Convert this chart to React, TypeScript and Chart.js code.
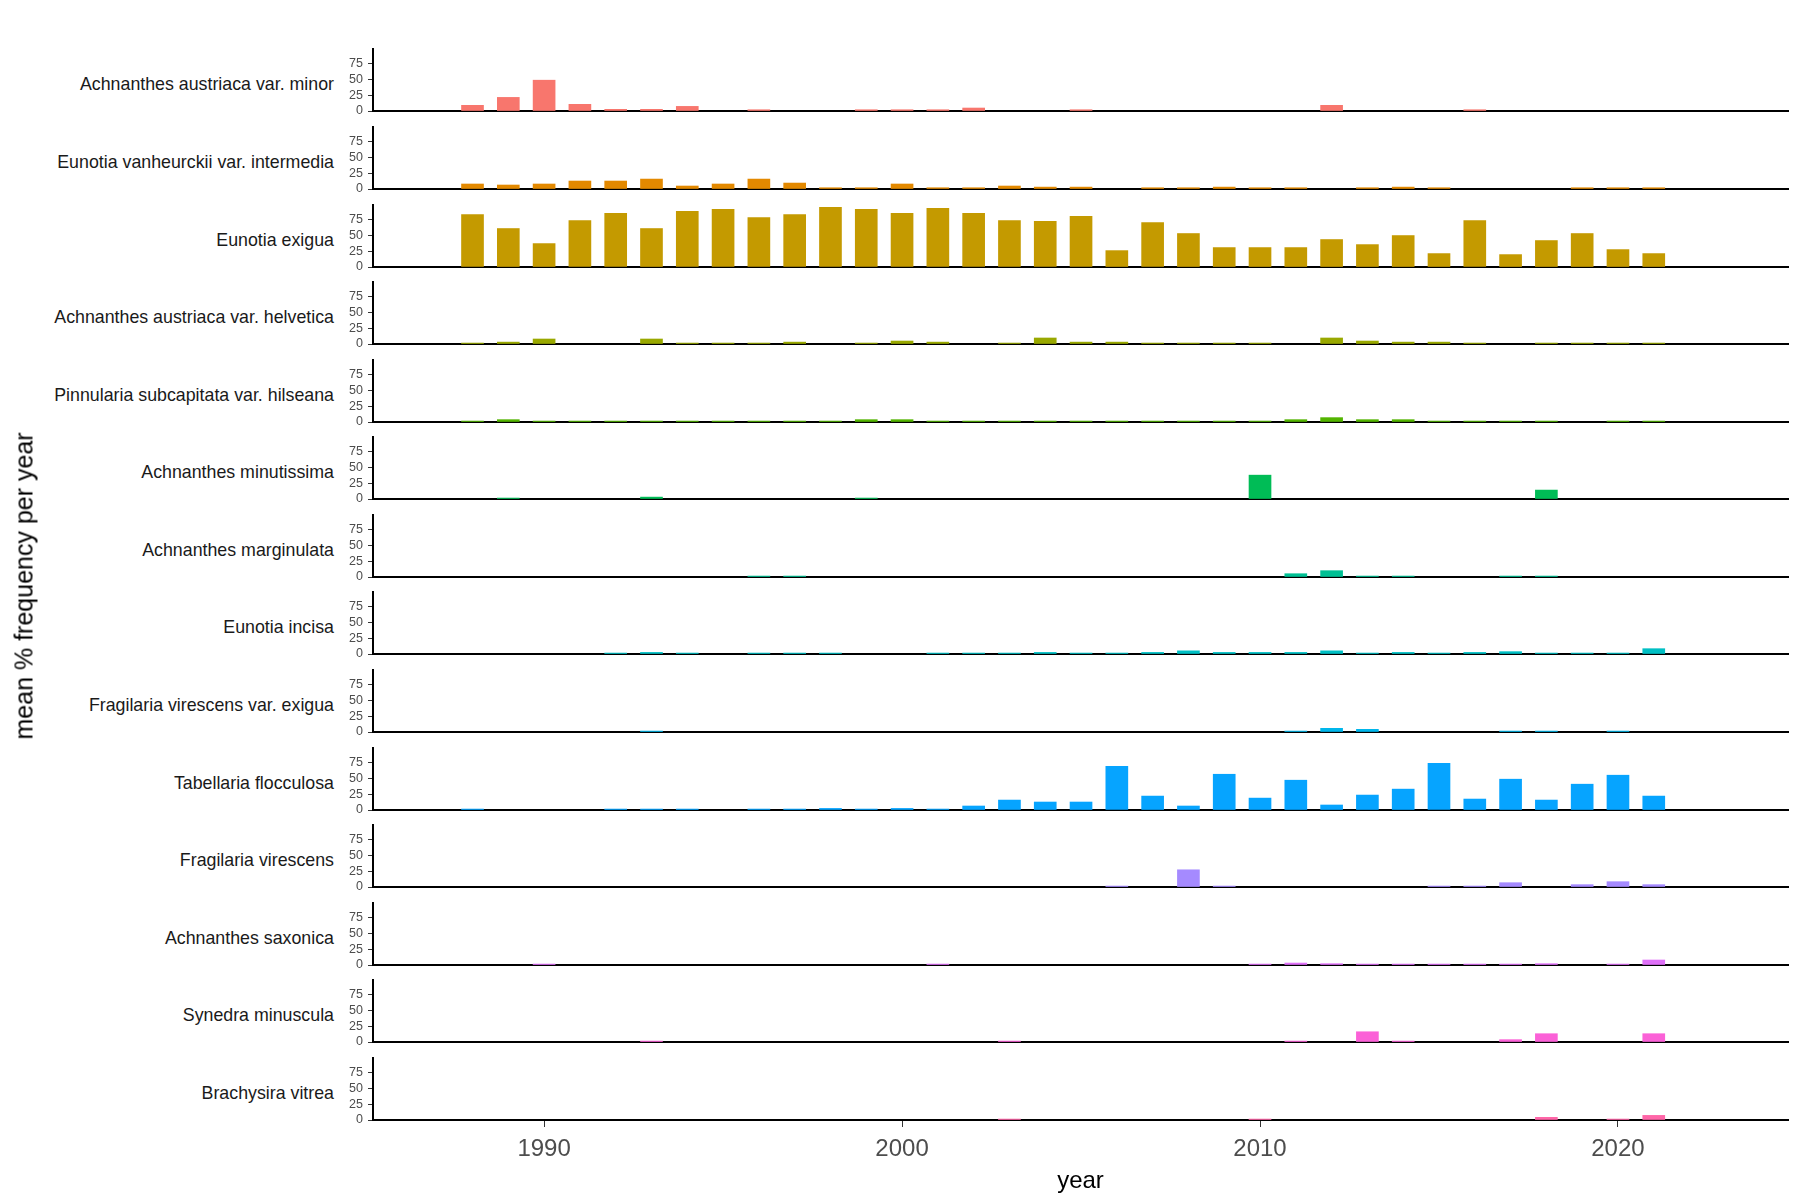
import React, { useEffect, useRef } from "react";
import { Chart, registerables } from "chart.js";

Chart.register(...registerables);

const FONT = "'Liberation Sans', Arial, Helvetica, sans-serif";
Chart.defaults.font.family = FONT;

// ---------- data ----------
const SPECIES = [
  "Achnanthes austriaca var. minor",
  "Eunotia vanheurckii var. intermedia",
  "Eunotia exigua",
  "Achnanthes austriaca var. helvetica",
  "Pinnularia subcapitata var. hilseana",
  "Achnanthes minutissima",
  "Achnanthes marginulata",
  "Eunotia incisa",
  "Fragilaria virescens var. exigua",
  "Tabellaria flocculosa",
  "Fragilaria virescens",
  "Achnanthes saxonica",
  "Synedra minuscula",
  "Brachysira vitrea",
];

const COLORS = [
  "#F8766D", "#E38900", "#C49A00", "#99A800", "#53B400", "#00BC56", "#00C094",
  "#00BFC4", "#00B6EB", "#06A4FF", "#A58AFF", "#DF70F8", "#FB61D7", "#FF66A8",
];

const X_TICKS = [1990, 2000, 2010, 2020];
const Y_TICKS = [0, 25, 50, 75];

// [year, mean % frequency]
const AUSTRIACA_MINOR = [[1988, 9], [1989, 21.5], [1990, 48.7], [1991, 10.5], [1992, 2.6], [1993, 2.6], [1994, 7.3], [1996, 2], [1999, 2], [2000, 2], [2001, 2], [2002, 4.7], [2005, 2], [2012, 9], [2016, 2]];
const VANHEURCKII = [[1988, 7.9], [1989, 6.3], [1990, 7.9], [1991, 12.6], [1992, 12.6], [1993, 15.7], [1994, 4.7], [1995, 7.9], [1996, 15.7], [1997, 9.4], [1998, 2], [1999, 2], [2000, 7.9], [2001, 2], [2002, 2], [2003, 4.7], [2004, 3], [2005, 3], [2007, 2], [2008, 2], [2009, 3], [2010, 2], [2011, 2], [2013, 2], [2014, 3], [2015, 2], [2019, 2], [2020, 2], [2021, 2]];
const EXIGUA = [[1988, 83], [1989, 60.8], [1990, 37], [1991, 73.5], [1992, 84.7], [1993, 60.8], [1994, 87.8], [1995, 91], [1996, 78.3], [1997, 83], [1998, 94.2], [1999, 91], [2000, 84.7], [2001, 92.6], [2002, 84.7], [2003, 73.5], [2004, 72], [2005, 79.9], [2006, 25.9], [2007, 70.4], [2008, 52.9], [2009, 30.7], [2010, 30.7], [2011, 30.7], [2012, 43.4], [2013, 35.4], [2014, 49.7], [2015, 21.2], [2016, 73.5], [2017, 19.6], [2018, 41.8], [2019, 52.9], [2020, 27.5], [2021, 21.2]];
const HELVETICA = [[1988, 1.5], [1989, 3], [1990, 7.9], [1993, 7.9], [1994, 1.5], [1995, 1.5], [1996, 1.5], [1997, 3], [1999, 1.5], [2000, 4.7], [2001, 3], [2003, 1.5], [2004, 9.5], [2005, 3], [2006, 3], [2007, 1.5], [2008, 1.5], [2009, 1.5], [2010, 1.5], [2012, 9.5], [2013, 4.7], [2014, 3], [2015, 3], [2016, 1.5], [2018, 1.5], [2019, 1.5], [2020, 1.5], [2021, 1.5]];
const HILSEANA = [[1988, 1.5], [1989, 3.7], [1990, 1.5], [1991, 1.5], [1992, 1.5], [1993, 1.5], [1994, 1.5], [1995, 1.5], [1996, 1.5], [1997, 1.5], [1998, 1.5], [1999, 3.7], [2000, 3.7], [2001, 1.5], [2002, 1.5], [2003, 1.5], [2004, 1.5], [2005, 1.5], [2006, 1.5], [2007, 1.5], [2008, 1.5], [2009, 1.5], [2010, 1.5], [2011, 3.7], [2012, 6.9], [2013, 3.7], [2014, 3.7], [2015, 1.5], [2016, 1.5], [2017, 1.5], [2018, 1.5], [2020, 1.5], [2021, 1.5]];
const MINUTISSIMA = [[1989, 1.5], [1993, 3], [1999, 1.5], [2010, 37.7], [2018, 14.1]];
const MARGINULATA = [[1996, 1.5], [1997, 1.5], [2011, 5.2], [2012, 10], [2013, 1.5], [2014, 1.5], [2017, 1.5], [2018, 1.5]];
const INCISA = [[1992, 1.5], [1993, 2.5], [1994, 1.5], [1996, 1.5], [1997, 1.5], [1998, 1.5], [2001, 1.5], [2002, 1.5], [2003, 1.5], [2004, 2.5], [2005, 1.5], [2006, 1.5], [2007, 2.5], [2008, 5], [2009, 2.5], [2010, 2.5], [2011, 2.5], [2012, 5], [2013, 1.5], [2014, 2.5], [2015, 1.5], [2016, 2.5], [2017, 3.7], [2018, 1.5], [2019, 1.5], [2020, 1.5], [2021, 8.4]];
const VIRESCENS_EXIGUA = [[1993, 1.5], [2011, 1.5], [2012, 5.8], [2013, 4.2], [2017, 1.5], [2018, 1.5], [2020, 1.5]];
const TABELLARIA = [[1988, 1.5], [1992, 1.5], [1993, 1.5], [1994, 1.5], [1996, 1.5], [1997, 1.5], [1998, 2.5], [1999, 1.5], [2000, 2.5], [2001, 1.5], [2002, 6.3], [2003, 15.7], [2004, 12.6], [2005, 12.6], [2006, 69.1], [2007, 22], [2008, 6.3], [2009, 56.5], [2010, 18.8], [2011, 47.1], [2012, 7.9], [2013, 23.6], [2014, 33], [2015, 73.8], [2016, 17.3], [2017, 48.7], [2018, 15.7], [2019, 40.8], [2020, 55], [2021, 22]];
const FRAG_VIRESCENS = [[2006, 1.5], [2008, 27.2], [2009, 1.5], [2015, 1.5], [2016, 1.5], [2017, 6.8], [2019, 3.7], [2020, 8.4], [2021, 3.7]];
const SAXONICA = [[1990, 1.5], [2001, 1.5], [2010, 1.5], [2011, 3.1], [2012, 2.1], [2013, 1.5], [2014, 1.5], [2015, 1.5], [2016, 1.5], [2017, 1.5], [2018, 2.1], [2020, 1.5], [2021, 7.9]];
const SYNEDRA = [[1993, 1.5], [2003, 1.5], [2011, 1.5], [2013, 16.2], [2014, 1.5], [2017, 3.7], [2018, 13.1], [2021, 13.1]];
const BRACHYSIRA = [[2003, 1.5], [2010, 1.5], [2018, 4.2], [2020, 1.5], [2021, 7.3]];

const SERIES = [
  AUSTRIACA_MINOR, VANHEURCKII, EXIGUA, HELVETICA, HILSEANA, MINUTISSIMA, MARGINULATA,
  INCISA, VIRESCENS_EXIGUA, TABELLARIA, FRAG_VIRESCENS, SAXONICA, SYNEDRA, BRACHYSIRA,
];

// ---------- layout ----------
const W = 1800;
const H = 1200;
const X_MIN = 1985.22;
const X_MAX = 2024.75;
const Y_MAX = 98;
const AXIS_LEFT = 373;
const RIGHT_PAD = 12;
const PANEL_TOP0 = 49.3;
const PANEL_PITCH = 77.6;
const PANEL_H = 62;
const PAD = 8;

function Panel({ index }: { index: number }) {
  const ref = useRef<HTMLCanvasElement | null>(null);
  const last = index === SERIES.length - 1;
  const top = Math.round(PANEL_TOP0 + index * PANEL_PITCH);
  const canvasTop = top - PAD;
  const canvasH = last ? H - canvasTop : PAD + PANEL_H + PAD;
  const xAxisH = last ? canvasH - PAD - PANEL_H : 0;

  useEffect(() => {
    const data = SERIES[index];
    const chart = new Chart(ref.current as HTMLCanvasElement, {
      type: "bar",
      data: {
        datasets: [
          {
            data: data.map(([x, y]) => ({ x, y })),
            backgroundColor: COLORS[index],
            borderWidth: 0,
            barThickness: 22,
          },
        ],
      },
      options: {
        animation: false,
        responsive: false,
        events: [],
        layout: { padding: { left: 0, right: RIGHT_PAD, top: PAD, bottom: last ? 0 : PAD } },
        plugins: { legend: { display: false }, tooltip: { enabled: false } },
        scales: {
          x: {
            type: "linear",
            min: X_MIN,
            max: X_MAX,
            offset: false,
            z: 1,
            grid: {
              display: last,
              offset: false,
              drawOnChartArea: false,
              drawTicks: true,
              tickLength: 7,
              color: "#333333",
              lineWidth: 1,
            },
            border: { display: true, color: "#000000", width: 2 },
            ticks: {
              display: last,
              color: "#4d4d4d",
              font: { size: 24, family: FONT },
              padding: 8,
              maxRotation: 0,
              callback: (v: any) => String(v),
            },
            title: {
              display: last,
              text: "year",
              color: "#000000",
              font: { size: 24, family: FONT },
              padding: { top: 0, bottom: 4 },
            },
            afterBuildTicks: (s: any) => {
              s.ticks = X_TICKS.map((v) => ({ value: v }));
            },
            afterFit: (s: any) => {
              s.height = xAxisH;
              s.paddingLeft = 0;
              s.paddingRight = 0;
            },
          },
          y: {
            type: "linear",
            min: 0,
            max: Y_MAX,
            z: 1,
            grid: {
              display: true,
              drawOnChartArea: false,
              drawTicks: true,
              tickLength: 5,
              color: "#333333",
              lineWidth: 1,
            },
            border: { display: true, color: "#000000", width: 2 },
            ticks: {
              color: "#4d4d4d",
              font: { size: 12.5, family: FONT },
              padding: 5,
              callback: (v: any) => String(v),
            },
            afterBuildTicks: (s: any) => {
              s.ticks = Y_TICKS.map((v) => ({ value: v }));
            },
            afterFit: (s: any) => {
              s.width = AXIS_LEFT;
              s.paddingTop = 0;
              s.paddingBottom = 0;
            },
          },
        },
      },
    } as any);
    return () => chart.destroy();
  }, [index]);

  return (
    <>
      <div
        style={{
          position: "absolute",
          left: 0,
          width: 334,
          top: top,
          height: PANEL_H,
          display: "flex",
          alignItems: "center",
          justifyContent: "flex-end",
          fontFamily: FONT,
          fontSize: 17.8,
          color: "#1a1a1a",
          whiteSpace: "nowrap",
          paddingTop: 8,
          boxSizing: "border-box",
        }}
      >
        {SPECIES[index]}
      </div>
      <canvas
        ref={ref}
        width={W}
        height={canvasH}
        style={{ position: "absolute", left: 0, top: canvasTop, width: W, height: canvasH }}
      />
    </>
  );
}

export default function App() {
  return (
    <div
      style={{
        position: "absolute",
        left: 0,
        top: 0,
        width: W,
        height: H,
        overflow: "hidden",
        background: "#ffffff",
      }}
    >
      {SPECIES.map((_, i) => (
        <Panel key={i} index={i} />
      ))}
      <div
        style={{
          position: "absolute",
          left: 24,
          top: 586,
          transform: "translate(-50%, -50%) rotate(-90deg)",
          fontFamily: FONT,
          fontSize: 25,
          color: "#000000",
          whiteSpace: "nowrap",
        }}
      >
        mean % frequency per year
      </div>
    </div>
  );
}
